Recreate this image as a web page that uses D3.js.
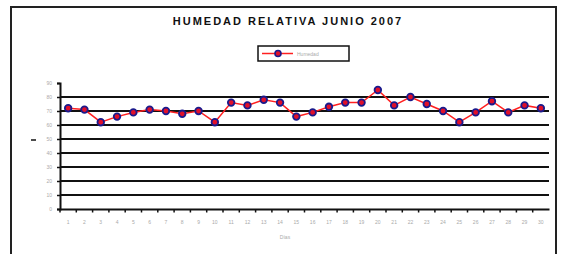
<!DOCTYPE html>
<html><head><meta charset="utf-8">
<script src="https://cdn.jsdelivr.net/npm/d3@7"></script>
<style>body{margin:0;background:#fff}svg{display:block}</style>
</head><body>
<script>
const days = d3.range(1, 31).map(String);
const humidity = [72,71,62,66,69,71,70,68,70,62,76,74,78,76,66,69,73,76,76,85,74,80,75,70,62,69,77,69,74,72];
const yTicks = [0,10,20,30,40,50,60,70,80,90];
const title = "HUMEDAD RELATIVA JUNIO 2007";
const seriesName = "Humedad";
const xTitle = "Días";

const W = 567, H = 254;
const svg = d3.select("body").append("svg").attr("width", W).attr("height", H);

// outer frame
svg.append("rect").attr("x", 11).attr("y", 7).attr("width", 545).attr("height", 260)
  .attr("fill", "#fff").attr("stroke", "#222").attr("stroke-width", 2);

svg.append("text").attr("x", 288).attr("y", 25).attr("text-anchor", "middle")
  .attr("font-family", "Liberation Sans, Arial, sans-serif").attr("font-weight", "bold")
  .attr("font-size", 11).attr("letter-spacing", 2).attr("fill", "#111").text(title);

const x = d3.scaleBand().domain(days).range([60, 549]);
const y = d3.scaleLinear().domain([0, 90]).range([209, 83]);

// gridlines
svg.append("g").selectAll("line").data(yTicks.filter(v => v > 0 && v < 90)).join("line")
  .attr("x1", 60).attr("x2", 549).attr("y1", d => y(d)).attr("y2", d => y(d))
  .attr("stroke", "#111").attr("stroke-width", 2);

// y axis
const ya = svg.append("g").attr("transform", "translate(60,0)")
  .call(d3.axisLeft(y).tickValues(yTicks).tickSize(3).tickPadding(5));
ya.select(".domain").attr("stroke", "#111").attr("stroke-width", 2);
ya.selectAll(".tick line").attr("stroke", "#111").attr("stroke-width", 1.5);
ya.selectAll("text").attr("font-size", 5).attr("fill", "#aaa").attr("font-family", "Liberation Sans, Arial, sans-serif");

// x axis
const xa = svg.append("g").attr("transform", "translate(0,209)")
  .call(d3.axisBottom(x).tickSize(0).tickPadding(11));
xa.select(".domain").attr("stroke", "#111").attr("stroke-width", 2);
xa.selectAll("text").attr("font-size", 5).attr("fill", "#aaa").attr("font-family", "Liberation Sans, Arial, sans-serif");
// category boundary ticks
svg.append("g").selectAll("line").data(days).join("line")
  .attr("x1", d => x(d)).attr("x2", d => x(d)).attr("y1", 209).attr("y2", 212.5)
  .attr("stroke", "#111").attr("stroke-width", 1.5);

svg.append("text").attr("x", 285).attr("y", 239).attr("text-anchor", "middle")
  .attr("font-size", 5).attr("fill", "#aaa").attr("font-family", "Liberation Sans, Arial, sans-serif").text(xTitle);

// y axis title (collapsed dash)
svg.append("line").attr("x1", 31).attr("x2", 36).attr("y1", 140).attr("y2", 140)
  .attr("stroke", "#111").attr("stroke-width", 1.5);

// line
const cx = (d, i) => x(days[i]) + x.bandwidth() / 2;
svg.append("path").datum(humidity)
  .attr("d", d3.line().x((d, i) => cx(d, i)).y(d => y(d)))
  .attr("fill", "none").attr("stroke", "#ff2020").attr("stroke-width", 1.5);
svg.append("g").selectAll("circle").data(humidity).join("circle")
  .attr("cx", (d, i) => cx(d, i)).attr("cy", d => y(d)).attr("r", 3.3)
  .attr("fill", "#e0102a").attr("stroke", "#1a1a8c").attr("stroke-width", 1.8);

// legend
const lg = svg.append("g");
lg.append("rect").attr("x", 258).attr("y", 46).attr("width", 91).attr("height", 15)
  .attr("fill", "#fff").attr("stroke", "#111").attr("stroke-width", 1.5);
lg.append("line").attr("x1", 262).attr("x2", 293).attr("y1", 53.5).attr("y2", 53.5)
  .attr("stroke", "#ff2020").attr("stroke-width", 1.5);
lg.append("circle").attr("cx", 278).attr("cy", 53.5).attr("r", 3)
  .attr("fill", "#e0102a").attr("stroke", "#1a1a8c").attr("stroke-width", 1.6);
lg.append("text").attr("x", 297).attr("y", 55.5).attr("font-size", 5).attr("fill", "#aaa")
  .attr("font-family", "Liberation Sans, Arial, sans-serif").text(seriesName);
</script>
</body></html>
